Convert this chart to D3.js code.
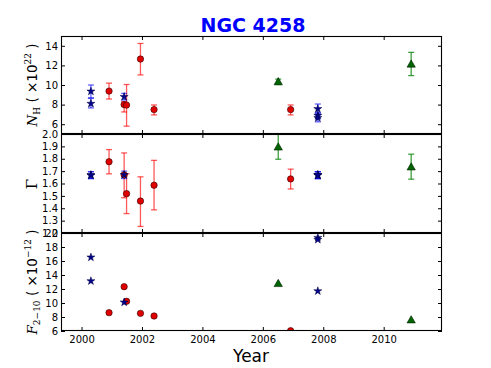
<!DOCTYPE html>
<html>
<head>
<meta charset="utf-8">
<script src="https://cdn.jsdelivr.net/npm/d3@7"></script>
<style>
  body { margin: 0; background: #fff; }
  .tick text { font-family: "DejaVu Sans", sans-serif; font-size: 10px; fill: #000; }
  .tick line { stroke: #000; }
</style>
</head>
<body>
<svg id="chart" width="491" height="368"></svg>
<script>
// Observation years (decimal)
var starYears  = [2000.31, 2000.31, 2001.41, 2007.82, 2007.82, 2007.82];
var redYears   = [2000.91, 2001.41, 2001.49, 2001.95, 2002.40, 2006.92];
var greenYears = [2006.51, 2010.91];

// Column density N_H (x 10^22)
var starNH   = [9.35, 8.10, 8.80, 7.56, 6.88, 6.64];
var starNHLo = [8.70, 7.66, 8.47, 7.10, 6.55, 6.24];
var starNHHi = [10.0, 8.63, 9.14, 8.06, 7.20, 7.00];
var redNH    = [9.38, 8.00, 7.95, 12.65, 7.49, 7.49];
var redNHLo  = [8.57, 7.25, 5.80, 11.03, 6.95, 6.95];
var redNHHi  = [10.19, 8.30, 10.05, 14.24, 7.96, 7.96];
var greenNH   = [10.32, 12.12];
var greenNHLo = [10.05, 10.96];
var greenNHHi = [10.60, 13.33];

// Photon index Gamma
var starGamma   = [1.67, 1.665, 1.67, 1.67, 1.665, 1.67];
var starGammaLo = [1.64, 1.64, 1.64, 1.64, 1.64, 1.64];
var starGammaHi = [1.695, 1.695, 1.70, 1.695, 1.695, 1.695];
var redGamma   = [1.776, 1.67, 1.518, 1.458, 1.586, 1.637];
var redGammaLo = [1.678, 1.485, 1.357, 1.253, 1.387, 1.556];
var redGammaHi = [1.874, 1.847, 1.678, 1.654, 1.787, 1.716];
var greenGamma   = [1.894, 1.733];
var greenGammaLo = [1.796, 1.635];
var greenGammaHi = [2.10, 1.837];

// 2-10 keV flux (x 10^-12)
var starFlux  = [16.53, 13.14, 10.10, 19.33, 19.05, 11.71];
var redFlux   = [8.62, 12.33, 10.24, 8.52, 8.14, 6.04];
var greenFlux = [12.76, 7.57];

var xTicks = [2000, 2002, 2004, 2006, 2008, 2010];

var svg = d3.select("#chart");
svg.append("rect").attr("width", 491).attr("height", 368).attr("fill", "#fff");

var left = 61, right = 442;
var x = d3.scaleLinear().domain([1999.32, 2011.93]).range([left, right]);

var panels = [
  {top: 36, bottom: 134, domain: [5, 15], ticks: d3.range(6, 15, 2), fmt: d3.format("d"),
   star: [starNH, starNHLo, starNHHi], red: [redNH, redNHLo, redNHHi], green: [greenNH, greenNHLo, greenNHHi]},
  {top: 134, bottom: 233, domain: [1.2, 2.0], ticks: d3.range(12, 21).map(function(d) { return d / 10; }), fmt: d3.format(".1f"),
   star: [starGamma, starGammaLo, starGammaHi], red: [redGamma, redGammaLo, redGammaHi], green: [greenGamma, greenGammaLo, greenGammaHi]},
  {top: 233, bottom: 331, domain: [6, 20], ticks: d3.range(6, 21, 2), fmt: d3.format("d"),
   star: [starFlux], red: [redFlux], green: [greenFlux]}
];

panels.forEach(function(p, i) {
  var y = d3.scaleLinear().domain(p.domain).range([p.bottom, p.top]);
  var g = svg.append("g");

  // ticks, all pointing inward
  g.append("g").attr("transform", "translate(" + left + ",0)")
    .call(d3.axisLeft(y).tickValues(p.ticks).tickFormat(p.fmt).tickSize(-4).tickPadding(3))
    .call(function(a) { a.select(".domain").remove(); });
  g.append("g").attr("transform", "translate(" + right + ",0)")
    .call(d3.axisRight(y).tickValues(p.ticks).tickFormat("").tickSize(-4))
    .call(function(a) { a.select(".domain").remove(); });
  g.append("g").attr("transform", "translate(0," + p.top + ")")
    .call(d3.axisTop(x).tickValues(xTicks).tickFormat("").tickSize(-4))
    .call(function(a) { a.select(".domain").remove(); });
  g.append("g").attr("transform", "translate(0," + p.bottom + ")")
    .call(d3.axisBottom(x).tickValues(xTicks).tickFormat(i == 2 ? d3.format("d") : "").tickSize(-4).tickPadding(5))
    .call(function(a) { a.select(".domain").remove(); });

  svg.append("clipPath").attr("id", "clip" + i)
    .append("rect").attr("x", left).attr("y", p.top).attr("width", right - left).attr("height", p.bottom - p.top);
  var plot = g.append("g").attr("clip-path", "url(#clip" + i + ")");

  function errorbars(years, vals, color, opacity) {
    if (!vals[1]) return;
    var eb = plot.append("g").attr("stroke", color).attr("stroke-opacity", opacity).attr("stroke-width", 1.3);
    years.forEach(function(yr, j) {
      var cx = x(yr);
      eb.append("line").attr("x1", cx).attr("x2", cx).attr("y1", y(vals[1][j])).attr("y2", y(vals[2][j]));
      [vals[1][j], vals[2][j]].forEach(function(v) {
        eb.append("line").attr("x1", cx - 3).attr("x2", cx + 3).attr("y1", y(v)).attr("y2", y(v));
      });
    });
  }
  errorbars(redYears, p.red, "#ff0000", 0.65);
  errorbars(starYears, p.star, "#0000ff", 0.6);
  errorbars(greenYears, p.green, "#008000", 0.75);

  plot.selectAll(null).data(redYears).enter().append("circle")
    .attr("cx", function(d) { return x(d); })
    .attr("cy", function(d, j) { return y(p.red[0][j]); })
    .attr("r", 3.2).attr("fill", "#e00000").attr("stroke", "#300").attr("stroke-width", 0.6);

  plot.selectAll(null).data(starYears).enter().append("path")
    .attr("d", d3.symbol(d3.symbolStar, 20))
    .attr("transform", function(d, j) { return "translate(" + x(d) + "," + y(p.star[0][j]) + ")"; })
    .attr("fill", "#00008b").attr("stroke", "#000040").attr("stroke-width", 0.5);

  plot.selectAll(null).data(greenYears).enter().append("path")
    .attr("d", d3.symbol(d3.symbolTriangle, 30))
    .attr("transform", function(d, j) { return "translate(" + x(d) + "," + (y(p.green[0][j]) + 0.5) + ")"; })
    .attr("fill", "#006400").attr("stroke", "#002000").attr("stroke-width", 0.6);

  // frame
  g.append("rect").attr("x", left + 0.5).attr("y", p.top + 0.5)
    .attr("width", right - left - 1).attr("height", p.bottom - p.top - 1)
    .attr("fill", "none").attr("stroke", "#000").attr("stroke-width", 1.1);
});

// title
svg.append("text").attr("x", 253).attr("y", 32).attr("text-anchor", "middle")
  .attr("font-family", "DejaVu Sans").attr("font-weight", "bold").attr("font-size", 19)
  .attr("fill", "#0000ff").text("NGC 4258");

// x label
svg.append("text").attr("x", 251).attr("y", 362).attr("text-anchor", "middle")
  .attr("font-family", "DejaVu Sans").attr("font-size", 17).text("Year");

// y labels with math-like sub/superscripts
function ylabel(cy, parts) {
  var t = svg.append("text").attr("transform", "translate(37," + cy + ") rotate(-90)")
    .attr("text-anchor", "middle").attr("font-size", 13.5).attr("fill", "#000");
  parts.forEach(function(p) {
    t.append("tspan").attr("font-family", p.f || "DejaVu Serif")
      .attr("font-style", p.i ? "italic" : "normal")
      .attr("font-size", p.s || 13.5)
      .attr("baseline-shift", p.b || "0")
      .text(p.t);
  });
}
ylabel(85, [{t: "N", i: true}, {t: "H", s: 9, b: "-3"}, {t: "  (  ", f: "DejaVu Sans"},
  {t: "×10", f: "DejaVu Sans"}, {t: "22", s: 9, b: "6"}, {t: "  )", f: "DejaVu Sans"}]);
ylabel(184, [{t: "Γ", s: 15}]);
ylabel(282, [{t: "F", i: true}, {t: "2−10", s: 9, b: "-3"}, {t: "  (  ", f: "DejaVu Sans"},
  {t: "×10", f: "DejaVu Sans"}, {t: "−12", s: 9, b: "6"}, {t: "  )", f: "DejaVu Sans"}]);
</script>
</body>
</html>
